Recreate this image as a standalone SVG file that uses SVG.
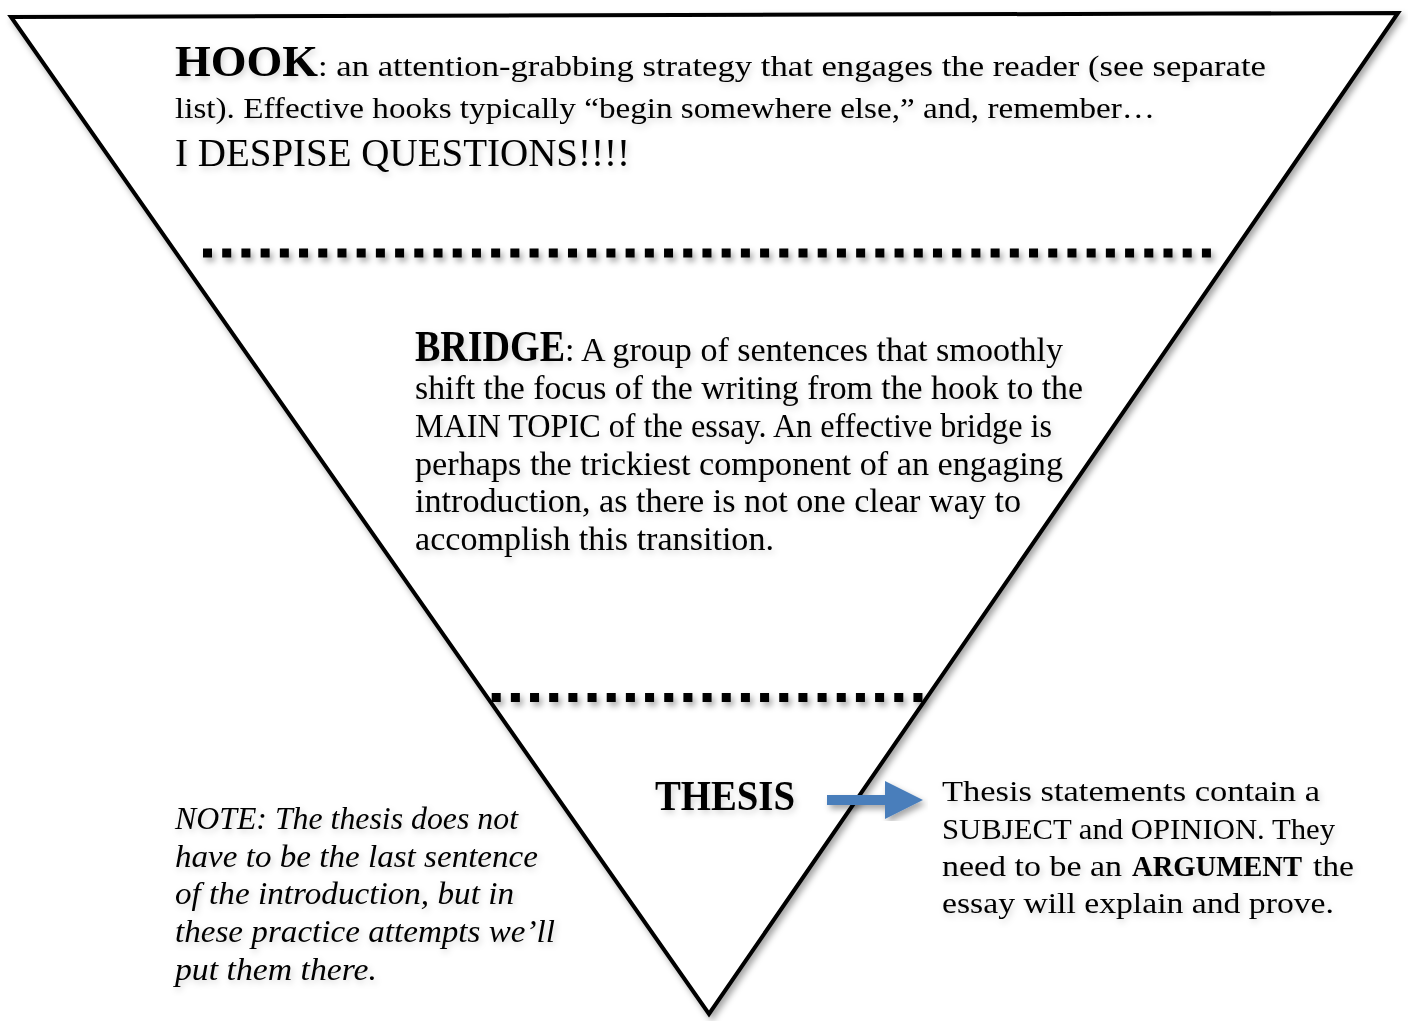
<svg xmlns="http://www.w3.org/2000/svg" width="1408" height="1021" viewBox="0 0 1408 1021">
<defs>
<filter id="sh" x="-5%" y="-5%" width="110%" height="110%">
<feDropShadow dx="3" dy="4" stdDeviation="3" flood-color="#000" flood-opacity="0.35"/>
</filter>
<filter id="tsh" x="-5%" y="-20%" width="110%" height="150%">
<feDropShadow dx="2" dy="3" stdDeviation="3" flood-color="#000" flood-opacity="0.18"/>
</filter>
</defs>
<style>
text{font-family:"Liberation Serif","Times New Roman",serif;fill:#000}
.b{font-weight:bold}
.body{font-size:30px}
.br{font-size:33px}
.it{font-style:italic;font-size:31px}
.dots{fill:none;stroke:#000;stroke-width:9}
</style>
<rect width="1408" height="1021" fill="#fff"/>
<g id="triangle" filter="url(#sh)">
<polygon points="11,17 1398,13 709,1014" fill="#fff" stroke="#000" stroke-width="4" stroke-linejoin="miter"/>
</g>
<g id="dividers" filter="url(#sh)">
<line class="dots" x1="203" y1="253" x2="1212" y2="253" stroke-dasharray="9 10.21"/>
<line class="dots" x1="491.7" y1="697.5" x2="924" y2="697.5" stroke-dasharray="9 10.17"/>
</g>
<g id="hook" filter="url(#tsh)">
<text x="175" y="76" class="b" font-size="45" textLength="143" lengthAdjust="spacingAndGlyphs">HOOK</text>
<text x="318" y="76" class="body" textLength="948" lengthAdjust="spacingAndGlyphs">: an attention-grabbing strategy that engages the reader (see separate</text>
<text x="175" y="118" class="body" textLength="980" lengthAdjust="spacingAndGlyphs">list). Effective hooks typically “begin somewhere else,” and, remember…</text>
<text x="175" y="166" font-size="39" textLength="455" lengthAdjust="spacingAndGlyphs">I DESPISE QUESTIONS!!!!</text>
</g>
<g id="bridge" filter="url(#tsh)">
<text x="415" y="361" class="b" font-size="44" textLength="150" lengthAdjust="spacingAndGlyphs">BRIDGE</text>
<text x="565" y="361" class="br" textLength="498" lengthAdjust="spacingAndGlyphs">: A group of sentences that smoothly</text>
<text x="415" y="399" class="br" textLength="668" lengthAdjust="spacingAndGlyphs">shift the focus of the writing from the hook to the</text>
<text x="415" y="437" class="br" textLength="637" lengthAdjust="spacingAndGlyphs">MAIN TOPIC of the essay. An effective bridge is</text>
<text x="415" y="475" class="br" textLength="648" lengthAdjust="spacingAndGlyphs">perhaps the trickiest component of an engaging</text>
<text x="415" y="512" class="br" textLength="606" lengthAdjust="spacingAndGlyphs">introduction, as there is not one clear way to</text>
<text x="415" y="550" class="br" textLength="359" lengthAdjust="spacingAndGlyphs">accomplish this transition.</text>
</g>
<g id="thesis" filter="url(#tsh)">
<text x="655" y="810" class="b" font-size="42" textLength="140" lengthAdjust="spacingAndGlyphs">THESIS</text>
</g>
<g id="connectors">
<polygon points="827,795 885,795 885,781 923,800 885,819 885,805 827,805" fill="#4a7ebb" filter="url(#sh)"/>
</g>
<g id="thesis-note" filter="url(#tsh)">
<text x="942" y="801" class="body" textLength="378" lengthAdjust="spacingAndGlyphs">Thesis statements contain a</text>
<text x="942" y="839" class="body" textLength="393" lengthAdjust="spacingAndGlyphs">SUBJECT and OPINION. They</text>
<text x="942" y="876" class="body" textLength="180" lengthAdjust="spacingAndGlyphs">need to be an</text>
<text x="1132" y="876" class="body b" textLength="170" lengthAdjust="spacingAndGlyphs">ARGUMENT</text>
<text x="1313" y="876" class="body" textLength="41" lengthAdjust="spacingAndGlyphs">the</text>
<text x="942" y="913" class="body" textLength="392" lengthAdjust="spacingAndGlyphs">essay will explain and prove.</text>
</g>
<g id="note" filter="url(#tsh)">
<text x="175" y="829" class="it" textLength="343" lengthAdjust="spacingAndGlyphs">NOTE: The thesis does not</text>
<text x="175" y="867" class="it" textLength="363" lengthAdjust="spacingAndGlyphs">have to be the last sentence</text>
<text x="175" y="904" class="it" textLength="339" lengthAdjust="spacingAndGlyphs">of the introduction, but in</text>
<text x="175" y="942" class="it" textLength="380" lengthAdjust="spacingAndGlyphs">these practice attempts we’ll</text>
<text x="175" y="980" class="it" textLength="202" lengthAdjust="spacingAndGlyphs">put them there.</text>
</g>
</svg>
